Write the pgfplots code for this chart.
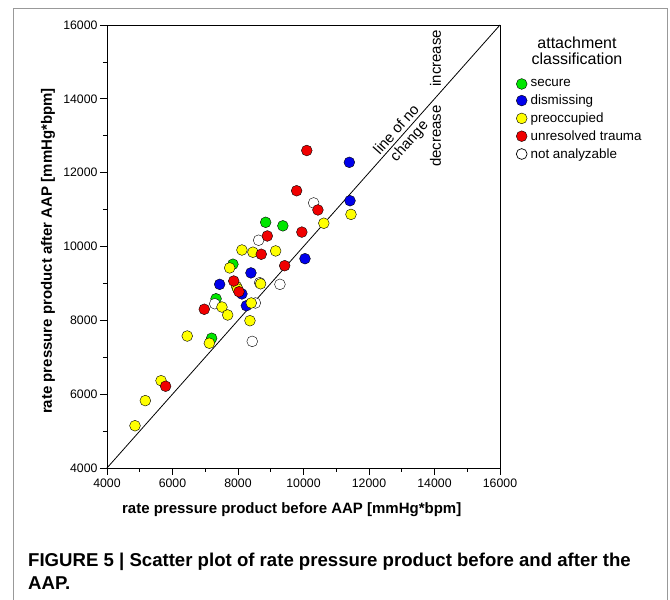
\documentclass[border=0pt]{standalone}
\usepackage{fontspec}
\setmainfont{Liberation Sans}
\usepackage{pgfplots}
\pgfplotsset{compat=1.18}

\definecolor{cgreen}{RGB}{0,230,0}
\definecolor{cblue}{RGB}{0,0,235}
\definecolor{cyellow}{RGB}{255,255,0}
\definecolor{cred}{RGB}{240,0,0}

\begin{document}
\begin{tikzpicture}[x=1pt,y=1pt]
\useasboundingbox (0,0) rectangle (670,600);
\draw[gray!80, line width=1pt] (13,591) rectangle (667,-10);

\begin{axis}[
    at={(107pt,132pt)}, anchor=south west,
    width=393pt, height=443pt, scale only axis,
    xmin=4000, xmax=16000, ymin=4000, ymax=16000,
    xtick={4000,6000,...,16000}, ytick={4000,6000,...,16000},
    minor tick num=1,
    tick pos=left, tick align=outside,
    major tick length=7pt, minor tick length=4pt,
    every tick/.style={black, line width=0.8pt},
    axis line style={line width=0.9pt},
    scaled ticks=false,
    xticklabel style={/pgf/number format/1000 sep={}},
    yticklabel style={/pgf/number format/1000 sep={}},
    /pgf/number format/assume math mode=true,
    ticklabel style={font=\fontsize{12.3}{14}\selectfont},
    yticklabel style={xshift=1pt},
    xlabel={\textbf{rate pressure product before AAP [mmHg*bpm]}},
    ylabel={\textbf{rate pressure product after AAP [mmHg*bpm]}},
    label style={font=\fontsize{15}{17}\selectfont},
    xlabel style={at={(axis description cs:0.47,-0.095)}, anchor=center},
    ylabel style={at={(axis description cs:-0.150,0.49)}, anchor=center},
    clip=false,
    legend style={at={(rel axis cs:1.041,0.8795)}, anchor=north west,
        draw=none, fill=none, font=\fontsize{13.4}{15}\selectfont,
        row sep=4.6pt, inner sep=0pt,
        nodes={inner xsep=3.5pt, inner ysep=1pt, anchor=west}},
    legend cell align=left,
    legend image code/.code={\draw[#1] plot coordinates {(0pt,0pt)};},
    every axis plot/.append style={only marks, mark=*, mark size=5.4pt,
        mark options={draw=black, line width=0.7pt}},
]
\addplot[mark options={fill=cgreen}] coordinates {
    (8845,10655) (9370,10560) (7845,9520) (7330,8585) (7195,7515)
};
\addlegendentry{secure}
\addplot[mark options={fill=cblue}] coordinates {
    (11400,12280) (11420,11240) (10045,9670) (8395,9285) (7440,8975)
    (8120,8715) (8255,8395)
};
\addlegendentry{dismissing}
\addplot[mark options={fill=white}, forget plot] coordinates {
    (10310,11180) (8630,10170) (9280,8975) (8660,9020) (7290,8450)
    (8530,8470) (8435,7430)
};
\addplot[mark options={fill=cyellow}] coordinates {
    (11450,10870) (10620,10630) (8120,9905) (8455,9845) (9150,9880)
    (7745,9420) (8690,8990) (7960,8910) (7990,8850) (7510,8360)
    (7685,8145) (8405,8470) (8365,7990) (6450,7575) (7125,7380)
    (5650,6365) (5170,5825) (4855,5145)
};
\addlegendentry{preoccupied}
\addplot[mark options={fill=cred}] coordinates {
    (10100,12600) (9790,11510) (10440,10990) (9950,10390) (8895,10285)
    (8710,9790) (9425,9480) (7870,9065) (8030,8775) (6970,8300)
    (5790,6215)
};
\addlegendentry{unresolved trauma}
\addlegendimage{only marks, mark=*, mark size=5.4pt, mark options={draw=black, fill=white, line width=0.7pt}}
\addlegendentry{not analyzable}

\addplot[no marks, sharp plot, black, line width=0.8pt, forget plot] coordinates {(4000,4000) (16000,16000)};

\node[rotate=48.4, align=center, font=\fontsize{14.8}{17}\selectfont]
    at (axis cs:13050,13000) {line of no\\change};
\node[rotate=90, font=\fontsize{15}{16}\selectfont] at (axis cs:14030,15100) {increase};
\node[rotate=90, font=\fontsize{15}{16}\selectfont] at (axis cs:14030,12990) {decrease};
\end{axis}

\node[align=center, font=\fontsize{16}{15.5}\selectfont] at (577,549) {attachment\\classification};

\node[anchor=base west, inner sep=0pt, font=\bfseries\fontsize{18.6}{23.5}\selectfont] at (28,33.3)
    {FIGURE 5 | Scatter plot of rate pressure product before and after the};
\node[anchor=base west, inner sep=0pt, font=\bfseries\fontsize{18.6}{23.5}\selectfont] at (28,10)
    {AAP.};
\end{tikzpicture}
\end{document}
